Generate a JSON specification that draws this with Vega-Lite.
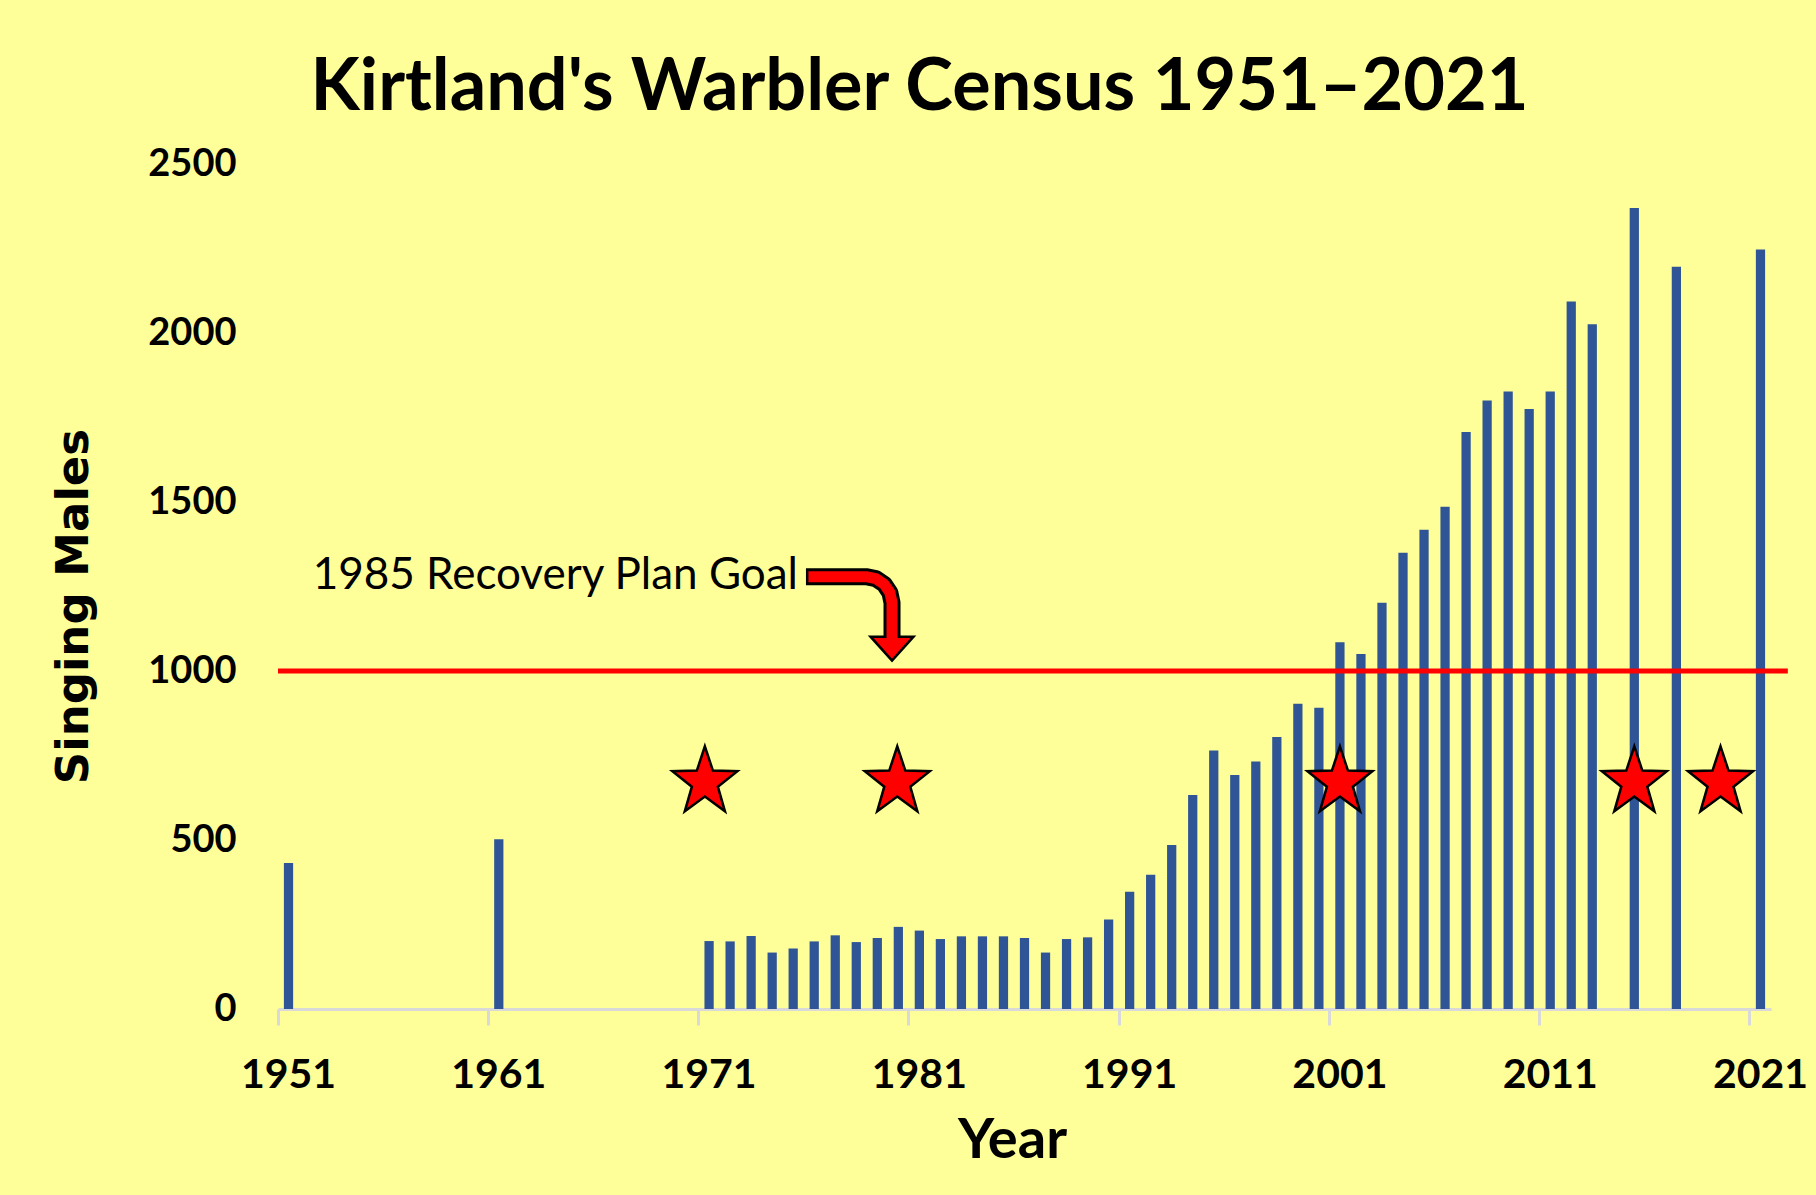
{
  "$schema": "https://vega.github.io/schema/vega-lite/v6.json",
  "width": 1493,
  "height": 845,
  "autosize": {"type": "none"},
  "padding": {"left": 278, "top": 164, "right": 45, "bottom": 186},
  "background": "#FFFF99",
  "config": {"view": {"stroke": null}, "axis": {"grid": false}},
  "title": {
    "text": "Kirtland's Warbler Census 1951–2021",
    "font": "Lato",
    "fontWeight": "bold",
    "fontSize": 72,
    "color": "#000000",
    "anchor": "middle",
    "frame": "group",
    "dx": -105,
    "baseline": "alphabetic",
    "offset": -37
  },
  "datasets": {
    "census": [
      {"year": 1951, "males": 432}, {"year": 1961, "males": 502},
      {"year": 1971, "males": 201}, {"year": 1972, "males": 200}, {"year": 1973, "males": 216},
      {"year": 1974, "males": 167}, {"year": 1975, "males": 179}, {"year": 1976, "males": 200},
      {"year": 1977, "males": 218}, {"year": 1978, "males": 198}, {"year": 1979, "males": 210},
      {"year": 1980, "males": 243}, {"year": 1981, "males": 232}, {"year": 1982, "males": 207},
      {"year": 1983, "males": 215}, {"year": 1984, "males": 215}, {"year": 1985, "males": 215},
      {"year": 1986, "males": 210}, {"year": 1987, "males": 167}, {"year": 1988, "males": 207},
      {"year": 1989, "males": 212}, {"year": 1990, "males": 265}, {"year": 1991, "males": 347},
      {"year": 1992, "males": 397}, {"year": 1993, "males": 485}, {"year": 1994, "males": 633},
      {"year": 1995, "males": 765}, {"year": 1996, "males": 692}, {"year": 1997, "males": 732},
      {"year": 1998, "males": 805}, {"year": 1999, "males": 903}, {"year": 2000, "males": 891},
      {"year": 2001, "males": 1085}, {"year": 2002, "males": 1050}, {"year": 2003, "males": 1202},
      {"year": 2004, "males": 1350}, {"year": 2005, "males": 1418}, {"year": 2006, "males": 1486},
      {"year": 2007, "males": 1707}, {"year": 2008, "males": 1800}, {"year": 2009, "males": 1827},
      {"year": 2010, "males": 1775}, {"year": 2011, "males": 1827}, {"year": 2012, "males": 2093},
      {"year": 2013, "males": 2026}, {"year": 2015, "males": 2370}, {"year": 2017, "males": 2196},
      {"year": 2021, "males": 2247}
    ],
    "goal": [{"x1": 1950.5, "x2": 2022.3, "value": 1000}],
    "stars": [
      {"x": 1970.8, "value": 681}, {"x": 1979.95, "value": 681}, {"x": 2001.0, "value": 681},
      {"x": 2015.0, "value": 681}, {"x": 2019.1, "value": 681}
    ],
    "label": [{"x": 1952.15, "value": 1242, "text": "1985 Recovery Plan Goal"}],
    "arrowBlack": [
      {"i": 0, "x": 1975.607, "value": 1279.2},
      {"i": 1, "x": 1978.46, "value": 1279.2},
      {"i": 2, "x": 1978.93, "value": 1273.4},
      {"i": 3, "x": 1979.33, "value": 1256.7},
      {"i": 4, "x": 1979.60, "value": 1231.7},
      {"i": 5, "x": 1979.70, "value": 1202.2},
      {"i": 6, "x": 1979.70, "value": 1098.6}
    ],
    "arrowRed": [
      {"i": 0, "x": 1975.726, "value": 1279.2},
      {"i": 1, "x": 1978.46, "value": 1279.2},
      {"i": 2, "x": 1978.93, "value": 1273.4},
      {"i": 3, "x": 1979.33, "value": 1256.7},
      {"i": 4, "x": 1979.60, "value": 1231.7},
      {"i": 5, "x": 1979.70, "value": 1202.2},
      {"i": 6, "x": 1979.70, "value": 1089.7}
    ],
    "head": [{"x": 1979.70, "value": 1066}]
  },
  "layer": [
    {
      "data": {"name": "census"},
      "mark": {"type": "bar", "color": "#2F5597", "width": {"band": 0.44}},
      "encoding": {
        "x": {
          "field": "year",
          "type": "ordinal",
          "scale": {
            "domain": [1951,1952,1953,1954,1955,1956,1957,1958,1959,1960,1961,1962,1963,1964,1965,1966,1967,1968,1969,1970,1971,1972,1973,1974,1975,1976,1977,1978,1979,1980,1981,1982,1983,1984,1985,1986,1987,1988,1989,1990,1991,1992,1993,1994,1995,1996,1997,1998,1999,2000,2001,2002,2003,2004,2005,2006,2007,2008,2009,2010,2011,2012,2013,2014,2015,2016,2017,2018,2019,2020,2021],
            "paddingInner": 0,
            "paddingOuter": 0
          },
          "axis": {
            "values": [1951, 1961, 1971, 1981, 1991, 2001, 2011, 2021],
            "bandPosition": 0,
            "tickExtra": false,
            "labelAngle": 0,
            "title": "Year",
            "domainColor": "#D9D9D9",
            "domainWidth": 3,
            "tickColor": "#D9D9D9",
            "tickWidth": 3,
            "tickSize": 16,
            "labelFont": "Lato",
            "labelFontWeight": "bold",
            "labelFontSize": 41,
            "labelColor": "#000000",
            "labelPadding": 30,
            "labelOverlap": false,
            "titleFont": "Lato",
            "titleFontWeight": "bold",
            "titleFontSize": 56,
            "titleColor": "#000000",
            "titlePadding": 18,
            "titleX": 734
          }
        },
        "y": {
          "field": "males",
          "type": "quantitative",
          "scale": {"domain": [0, 2500], "nice": false},
          "axis": {
            "values": [0, 500, 1000, 1500, 2000, 2500],
            "format": "d",
            "title": "Singing Males",
            "domain": false,
            "ticks": false,
            "tickSize": 0,
            "labelPadding": 42,
            "labelFont": "Lato",
            "labelFontWeight": "bold",
            "labelFontSize": 38,
            "labelColor": "#000000",
            "labelFlush": false,
            "labelOverlap": false,
            "titleFont": "DejaVu Sans",
            "titleFontWeight": "bold",
            "titleFontSize": 45,
            "titleColor": "#000000",
            "titlePadding": 51,
            "titleY": 442
          }
        }
      }
    },
    {
      "data": {"name": "goal"},
      "mark": {"type": "rule", "color": "#FF0000", "strokeWidth": 5},
      "encoding": {
        "x": {"field": "x1", "type": "quantitative", "scale": {"domain": [1950.5, 2021.5], "nice": false, "zero": false}, "axis": null},
        "x2": {"field": "x2"},
        "y": {"field": "value", "type": "quantitative"}
      }
    },
    {
      "data": {"name": "arrowBlack"},
      "mark": {"type": "line", "color": "#000000", "strokeWidth": 17, "strokeCap": "butt", "strokeJoin": "round"},
      "encoding": {
        "x": {"field": "x", "type": "quantitative", "scale": {"domain": [1950.5, 2021.5], "nice": false, "zero": false}, "axis": null},
        "y": {"field": "value", "type": "quantitative"},
        "order": {"field": "i"}
      }
    },
    {
      "data": {"name": "head"},
      "mark": {"type": "point", "shape": "M-1,-0.558L1,-0.558L0,0.558Z", "size": 1849, "filled": true, "fill": "#FF0000", "stroke": "#000000", "strokeWidth": 2.5, "opacity": 1},
      "encoding": {
        "x": {"field": "x", "type": "quantitative", "scale": {"domain": [1950.5, 2021.5], "nice": false, "zero": false}, "axis": null},
        "y": {"field": "value", "type": "quantitative"}
      }
    },
    {
      "data": {"name": "arrowRed"},
      "mark": {"type": "line", "color": "#FF0000", "strokeWidth": 11, "strokeCap": "butt", "strokeJoin": "round"},
      "encoding": {
        "x": {"field": "x", "type": "quantitative", "scale": {"domain": [1950.5, 2021.5], "nice": false, "zero": false}, "axis": null},
        "y": {"field": "value", "type": "quantitative"},
        "order": {"field": "i"}
      }
    },
    {
      "data": {"name": "stars"},
      "mark": {"type": "point", "shape": "M0,-1L0.247,-0.2525L1,-0.236L0.4,0.2425L0.618,1L0,0.547L-0.618,1L-0.4,0.2425L-1,-0.236L-0.247,-0.2525Z", "size": 4225, "filled": true, "fill": "#FF0000", "stroke": "#000000", "strokeWidth": 2.5, "opacity": 1},
      "encoding": {
        "x": {"field": "x", "type": "quantitative", "scale": {"domain": [1950.5, 2021.5], "nice": false, "zero": false}, "axis": null},
        "y": {"field": "value", "type": "quantitative"}
      }
    },
    {
      "data": {"name": "label"},
      "mark": {"type": "text", "font": "Lato", "fontSize": 44, "align": "left", "baseline": "alphabetic", "color": "#000000"},
      "encoding": {
        "x": {"field": "x", "type": "quantitative", "scale": {"domain": [1950.5, 2021.5], "nice": false, "zero": false}, "axis": null},
        "y": {"field": "value", "type": "quantitative"},
        "text": {"field": "text"}
      }
    }
  ],
  "resolve": {"scale": {"x": "independent"}}
}
